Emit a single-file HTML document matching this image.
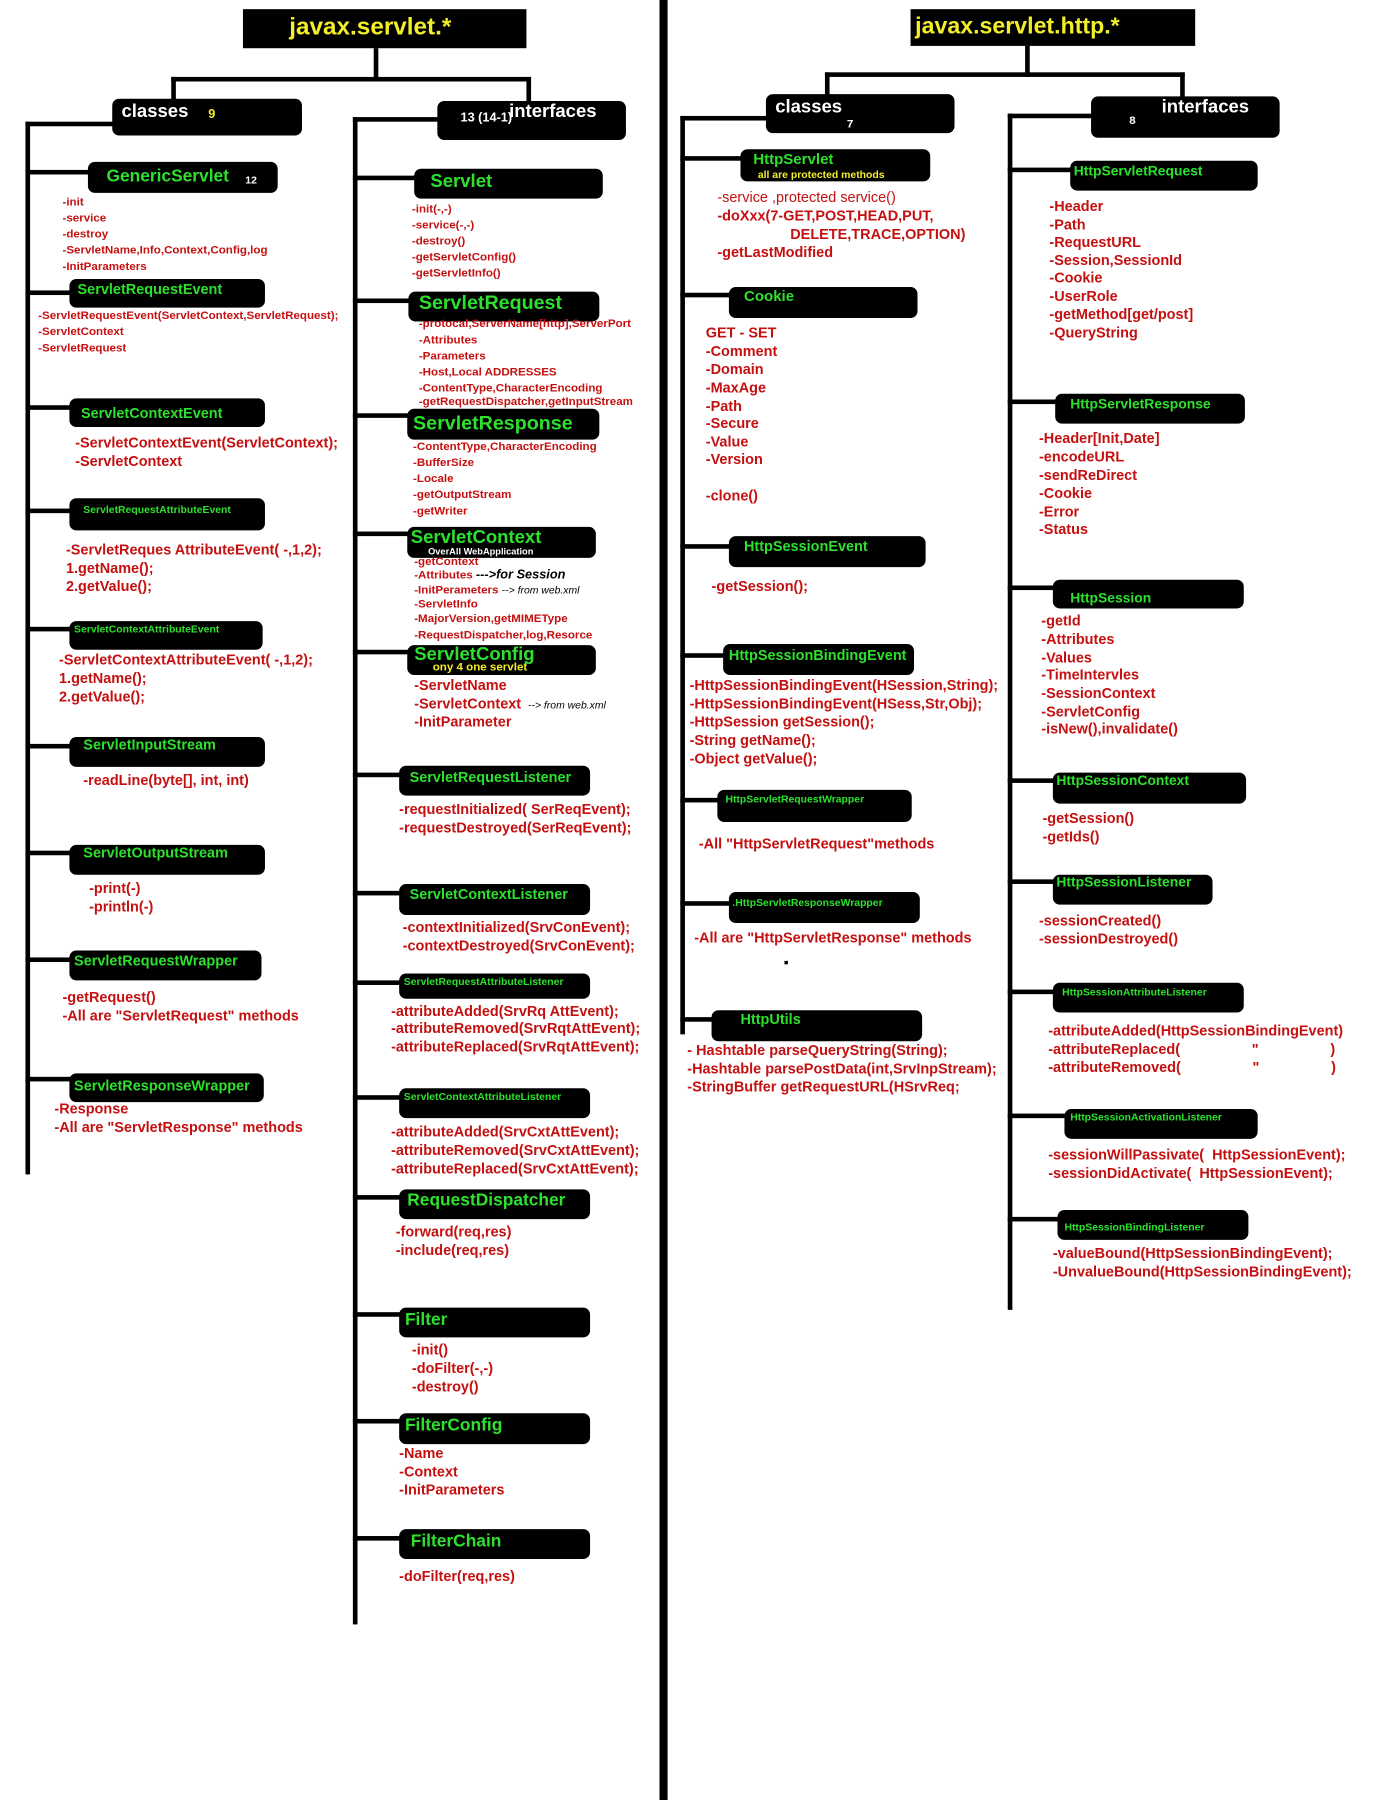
<!DOCTYPE html>
<html><head><meta charset="utf-8"><style>
html,body{margin:0;padding:0;background:#fff;width:1400px;height:1800px;overflow:hidden}
#w{position:absolute;left:0;top:0;width:1210px;height:1568px;transform:scale(1.157,1.148);transform-origin:0 0;font-family:"Liberation Sans",sans-serif;font-weight:bold}
#w div{position:absolute;white-space:nowrap;line-height:1}
.l{background:#000}
.b{background:#000;border-radius:6px}
.g{color:#2ee02e}
.y{color:#f2ee2a}
.wt{color:#fff}
.r{color:#c41010}
.s{font-size:10px}.m{font-size:12.5px}
</style></head><body><div id="w">
<!-- divider -->
<div class="l" style="left:570px;top:0;width:7px;height:1568px"></div>

<!-- LEFT PACKAGE -->
<div class="b" style="left:210px;top:8px;width:245px;height:34px;border-radius:0"></div>
<div class="y" style="left:250px;top:13px;font-size:21px">javax.servlet.*</div>
<div class="l" style="left:323px;top:42px;width:4px;height:28px"></div>
<div class="l" style="left:148px;top:67px;width:311px;height:4px"></div>
<div class="l" style="left:148px;top:67px;width:4px;height:20px"></div>
<div class="l" style="left:455px;top:67px;width:4px;height:22px"></div>
<div class="b" style="left:97px;top:86px;width:164px;height:32px"></div>
<div class="wt" style="left:105px;top:90px;font-size:16px">classes</div>
<div class="y" style="left:180px;top:95px;font-size:11px">9</div>
<div class="b" style="left:378px;top:88px;width:163px;height:34px"></div>
<div class="wt" style="left:398px;top:98px;font-size:11px">13 (14-1)</div>
<div class="wt" style="left:440px;top:90px;font-size:16px">interfaces</div>

<div class="l" style="left:22px;top:106px;width:4px;height:917px"></div>
<div class="l" style="left:22px;top:106px;width:76px;height:4px"></div>
<div class="l" style="left:305px;top:102px;width:4px;height:1313px"></div>
<div class="l" style="left:305px;top:102px;width:74px;height:4px"></div>

<!-- classes column -->
<div class="l" style="left:22px;top:148px;width:55px;height:4px"></div>
<div class="b" style="left:76px;top:141px;width:164px;height:27px"></div>
<div class="g" style="left:92px;top:146px;font-size:15px">GenericServlet</div>
<div class="wt" style="left:212px;top:153px;font-size:9px">12</div>
<div class="r s" style="left:54px;top:172px">-init</div>
<div class="r s" style="left:54px;top:186px">-service</div>
<div class="r s" style="left:54px;top:200px">-destroy</div>
<div class="r s" style="left:54px;top:214px">-ServletName,Info,Context,Config,log</div>
<div class="r s" style="left:54px;top:228px">-InitParameters</div>

<div class="l" style="left:22px;top:253px;width:40px;height:4px"></div>
<div class="b" style="left:60px;top:243px;width:169px;height:25px"></div>
<div class="g" style="left:67px;top:246px;font-size:12.5px">ServletRequestEvent</div>
<div class="r s" style="left:33px;top:271px">-ServletRequestEvent(ServletContext,ServletRequest);</div>
<div class="r s" style="left:33px;top:285px">-ServletContext</div>
<div class="r s" style="left:33px;top:299px">-ServletRequest</div>

<div class="l" style="left:22px;top:353px;width:40px;height:4px"></div>
<div class="b" style="left:60px;top:347px;width:169px;height:25px"></div>
<div class="g" style="left:70px;top:354px;font-size:12.5px">ServletContextEvent</div>
<div class="r m" style="left:65px;top:380px">-ServletContextEvent(ServletContext);</div>
<div class="r m" style="left:65px;top:396px">-ServletContext</div>

<div class="l" style="left:22px;top:443px;width:40px;height:4px"></div>
<div class="b" style="left:60px;top:434px;width:169px;height:28px"></div>
<div class="g" style="left:72px;top:440px;font-size:9px">ServletRequestAttributeEvent</div>
<div class="r m" style="left:57px;top:473px">-ServletReques AttributeEvent( -,1,2);</div>
<div class="r m" style="left:57px;top:489px">1.getName();</div>
<div class="r m" style="left:57px;top:505px">2.getValue();</div>

<div class="l" style="left:22px;top:546px;width:40px;height:4px"></div>
<div class="b" style="left:60px;top:541px;width:167px;height:25px"></div>
<div class="g" style="left:64px;top:544px;font-size:9px">ServletContextAttributeEvent</div>
<div class="r m" style="left:51px;top:569px">-ServletContextAttributeEvent( -,1,2);</div>
<div class="r m" style="left:51px;top:585px">1.getName();</div>
<div class="r m" style="left:51px;top:601px">2.getValue();</div>

<div class="l" style="left:22px;top:648px;width:40px;height:4px"></div>
<div class="b" style="left:60px;top:642px;width:169px;height:26px"></div>
<div class="g" style="left:72px;top:643px;font-size:12.5px">ServletInputStream</div>
<div class="r m" style="left:72px;top:674px">-readLine(byte[], int, int)</div>

<div class="l" style="left:22px;top:741px;width:40px;height:4px"></div>
<div class="b" style="left:60px;top:736px;width:169px;height:26px"></div>
<div class="g" style="left:72px;top:737px;font-size:12.5px">ServletOutputStream</div>
<div class="r m" style="left:77px;top:768px">-print(-)</div>
<div class="r m" style="left:77px;top:784px">-println(-)</div>

<div class="l" style="left:22px;top:834px;width:40px;height:4px"></div>
<div class="b" style="left:60px;top:828px;width:166px;height:26px"></div>
<div class="g" style="left:64px;top:831px;font-size:12.5px">ServletRequestWrapper</div>
<div class="r m" style="left:54px;top:863px">-getRequest()</div>
<div class="r m" style="left:54px;top:879px">-All are "ServletRequest"  methods</div>

<div class="l" style="left:22px;top:938px;width:40px;height:4px"></div>
<div class="b" style="left:60px;top:935px;width:168px;height:25px"></div>
<div class="g" style="left:64px;top:940px;font-size:12.5px">ServletResponseWrapper</div>
<div class="r m" style="left:47px;top:960px">-Response</div>
<div class="r m" style="left:47px;top:976px">-All are "ServletResponse" methods</div>

<!-- interfaces column -->
<div class="l" style="left:305px;top:153px;width:55px;height:4px"></div>
<div class="b" style="left:358px;top:147px;width:163px;height:26px"></div>
<div class="g" style="left:372px;top:151px;font-size:16px">Servlet</div>
<div class="r s" style="left:356px;top:178px">-init(-,-)</div>
<div class="r s" style="left:356px;top:192px">-service(-,-)</div>
<div class="r s" style="left:356px;top:206px">-destroy()</div>
<div class="r s" style="left:356px;top:220px">-getServletConfig()</div>
<div class="r s" style="left:356px;top:234px">-getServletInfo()</div>

<div class="l" style="left:305px;top:260px;width:50px;height:4px"></div>
<div class="b" style="left:353px;top:254px;width:165px;height:26px"></div>
<div class="g" style="left:362px;top:255px;font-size:17px">ServletRequest</div>
<div class="r s" style="left:362px;top:278px">-protocal,ServerName[http],ServerPort</div>
<div class="r s" style="left:362px;top:292px">-Attributes</div>
<div class="r s" style="left:362px;top:306px">-Parameters</div>
<div class="r s" style="left:362px;top:320px">-Host,Local ADDRESSES</div>
<div class="r s" style="left:362px;top:334px">-ContentType,CharacterEncoding</div>
<div class="r s" style="left:362px;top:346px">-getRequestDispatcher,getInputStream</div>

<div class="l" style="left:305px;top:360px;width:50px;height:4px"></div>
<div class="b" style="left:352px;top:356px;width:166px;height:27px"></div>
<div class="g" style="left:357px;top:360px;font-size:17px">ServletResponse</div>
<div class="r s" style="left:357px;top:385px">-ContentType,CharacterEncoding</div>
<div class="r s" style="left:357px;top:399px">-BufferSize</div>
<div class="r s" style="left:357px;top:413px">-Locale</div>
<div class="r s" style="left:357px;top:427px">-getOutputStream</div>
<div class="r s" style="left:357px;top:441px">-getWriter</div>

<div class="l" style="left:305px;top:463px;width:50px;height:4px"></div>
<div class="b" style="left:352px;top:459px;width:163px;height:27px"></div>
<div class="g" style="left:355px;top:461px;font-size:16px">ServletContext</div>
<div class="wt" style="left:370px;top:477px;font-size:8px">OverAll WebApplication</div>
<div class="r s" style="left:358px;top:485px">-getContext</div>
<div class="r s" style="left:358px;top:496px">-Attributes <span style="color:#000;font-style:italic;font-size:11px">--->for Session</span></div>
<div class="r s" style="left:358px;top:510px">-InitPerameters <span style="color:#000;font-style:italic;font-weight:normal;font-size:9px">--> from web.xml</span></div>
<div class="r s" style="left:358px;top:522px">-ServletInfo</div>
<div class="r s" style="left:358px;top:535px">-MajorVersion,getMIMEType</div>
<div class="r s" style="left:358px;top:549px">-RequestDispatcher,log,Resorce</div>

<div class="l" style="left:305px;top:566px;width:50px;height:4px"></div>
<div class="b" style="left:352px;top:562px;width:163px;height:26px"></div>
<div class="g" style="left:358px;top:563px;font-size:16px">ServletConfig</div>
<div class="y" style="left:374px;top:577px;font-size:10px">ony 4 one servlet</div>
<div class="r m" style="left:358px;top:591px">-ServletName</div>
<div class="r m" style="left:358px;top:607px">-ServletContext <span style="color:#000;font-style:italic;font-weight:normal;font-size:9px">&nbsp;--> from web.xml</span></div>
<div class="r m" style="left:358px;top:623px">-InitParameter</div>

<div class="l" style="left:305px;top:673px;width:42px;height:4px"></div>
<div class="b" style="left:345px;top:667px;width:165px;height:26px"></div>
<div class="g" style="left:354px;top:671px;font-size:12.5px">ServletRequestListener</div>
<div class="r m" style="left:345px;top:699px">-requestInitialized( SerReqEvent);</div>
<div class="r m" style="left:345px;top:715px">-requestDestroyed(SerReqEvent);</div>

<div class="l" style="left:305px;top:776px;width:42px;height:4px"></div>
<div class="b" style="left:345px;top:770px;width:165px;height:27px"></div>
<div class="g" style="left:354px;top:773px;font-size:12.5px">ServletContextListener</div>
<div class="r m" style="left:348px;top:802px">-contextInitialized(SrvConEvent);</div>
<div class="r m" style="left:348px;top:818px">-contextDestroyed(SrvConEvent);</div>

<div class="l" style="left:305px;top:854px;width:42px;height:4px"></div>
<div class="b" style="left:345px;top:848px;width:165px;height:22px"></div>
<div class="g" style="left:349px;top:851px;font-size:9px">ServletRequestAttributeListener</div>
<div class="r m" style="left:338px;top:875px">-attributeAdded(SrvRq AttEvent);</div>
<div class="r m" style="left:338px;top:890px">-attributeRemoved(SrvRqtAttEvent);</div>
<div class="r m" style="left:338px;top:906px">-attributeReplaced(SrvRqtAttEvent);</div>

<div class="l" style="left:305px;top:954px;width:42px;height:4px"></div>
<div class="b" style="left:345px;top:948px;width:165px;height:26px"></div>
<div class="g" style="left:349px;top:951px;font-size:9px">ServletContextAttributeListener</div>
<div class="r m" style="left:338px;top:980px">-attributeAdded(SrvCxtAttEvent);</div>
<div class="r m" style="left:338px;top:996px">-attributeRemoved(SrvCxtAttEvent);</div>
<div class="r m" style="left:338px;top:1012px">-attributeReplaced(SrvCxtAttEvent);</div>

<div class="l" style="left:305px;top:1041px;width:42px;height:4px"></div>
<div class="b" style="left:345px;top:1036px;width:165px;height:26px"></div>
<div class="g" style="left:352px;top:1038px;font-size:15px">RequestDispatcher</div>
<div class="r m" style="left:342px;top:1067px">-forward(req,res)</div>
<div class="r m" style="left:342px;top:1083px">-include(req,res)</div>

<div class="l" style="left:305px;top:1143px;width:42px;height:4px"></div>
<div class="b" style="left:345px;top:1139px;width:165px;height:26px"></div>
<div class="g" style="left:350px;top:1142px;font-size:15px">Filter</div>
<div class="r m" style="left:356px;top:1170px">-init()</div>
<div class="r m" style="left:356px;top:1186px">-doFilter(-,-)</div>
<div class="r m" style="left:356px;top:1202px">-destroy()</div>

<div class="l" style="left:305px;top:1236px;width:42px;height:4px"></div>
<div class="b" style="left:345px;top:1231px;width:165px;height:27px"></div>
<div class="g" style="left:350px;top:1234px;font-size:15px">FilterConfig</div>
<div class="r m" style="left:345px;top:1260px">-Name</div>
<div class="r m" style="left:345px;top:1276px">-Context</div>
<div class="r m" style="left:345px;top:1292px">-InitParameters</div>

<div class="l" style="left:305px;top:1338px;width:42px;height:4px"></div>
<div class="b" style="left:345px;top:1332px;width:165px;height:26px"></div>
<div class="g" style="left:355px;top:1335px;font-size:15px">FilterChain</div>
<div class="r m" style="left:345px;top:1367px">-doFilter(req,res)</div>

<!-- RIGHT PACKAGE -->
<div class="b" style="left:787px;top:8px;width:246px;height:32px;border-radius:0"></div>
<div class="y" style="left:791px;top:13px;font-size:20px">javax.servlet.http.*</div>
<div class="l" style="left:886px;top:40px;width:4px;height:27px"></div>
<div class="l" style="left:713px;top:63px;width:311px;height:4px"></div>
<div class="l" style="left:713px;top:63px;width:4px;height:21px"></div>
<div class="l" style="left:1020px;top:63px;width:4px;height:24px"></div>
<div class="b" style="left:662px;top:82px;width:163px;height:34px"></div>
<div class="wt" style="left:670px;top:86px;font-size:16px">classes</div>
<div class="wt" style="left:732px;top:104px;font-size:10px">7</div>
<div class="b" style="left:943px;top:84px;width:163px;height:36px"></div>
<div class="wt" style="left:976px;top:101px;font-size:10px">8</div>
<div class="wt" style="left:1004px;top:86px;font-size:16px">interfaces</div>

<div class="l" style="left:588px;top:101px;width:4px;height:800px"></div>
<div class="l" style="left:588px;top:101px;width:75px;height:4px"></div>
<div class="l" style="left:871px;top:99px;width:4px;height:1042px"></div>
<div class="l" style="left:871px;top:99px;width:73px;height:4px"></div>

<!-- http classes -->
<div class="l" style="left:588px;top:136px;width:54px;height:4px"></div>
<div class="b" style="left:640px;top:130px;width:164px;height:28px"></div>
<div class="g" style="left:651px;top:132px;font-size:13px">HttpServlet</div>
<div class="y" style="left:655px;top:148px;font-size:9px">all are protected methods</div>
<div class="r m" style="left:620px;top:166px;font-weight:normal">-service ,protected service()</div>
<div class="r m" style="left:620px;top:182px">-doXxx(7-GET,POST,HEAD,PUT,</div>
<div class="r m" style="left:683px;top:198px">DELETE,TRACE,OPTION)</div>
<div class="r m" style="left:620px;top:214px">-getLastModified</div>

<div class="l" style="left:588px;top:255px;width:44px;height:4px"></div>
<div class="b" style="left:630px;top:250px;width:163px;height:27px"></div>
<div class="g" style="left:643px;top:251px;font-size:13px">Cookie</div>
<div class="r m" style="left:610px;top:284px">GET - SET</div>
<div class="r m" style="left:610px;top:300px">-Comment</div>
<div class="r m" style="left:610px;top:316px">-Domain</div>
<div class="r m" style="left:610px;top:332px">-MaxAge</div>
<div class="r m" style="left:610px;top:348px">-Path</div>
<div class="r m" style="left:610px;top:363px">-Secure</div>
<div class="r m" style="left:610px;top:379px">-Value</div>
<div class="r m" style="left:610px;top:394px">-Version</div>
<div class="r m" style="left:610px;top:426px">-clone()</div>

<div class="l" style="left:588px;top:474px;width:44px;height:4px"></div>
<div class="b" style="left:630px;top:467px;width:170px;height:27px"></div>
<div class="g" style="left:643px;top:470px;font-size:12.5px">HttpSessionEvent</div>
<div class="r m" style="left:615px;top:505px">-getSession();</div>

<div class="l" style="left:588px;top:569px;width:39px;height:4px"></div>
<div class="b" style="left:625px;top:561px;width:165px;height:27px"></div>
<div class="g" style="left:630px;top:565px;font-size:12.5px">HttpSessionBindingEvent</div>
<div class="r m" style="left:596px;top:591px">-HttpSessionBindingEvent(HSession,String);</div>
<div class="r m" style="left:596px;top:607px">-HttpSessionBindingEvent(HSess,Str,Obj);</div>
<div class="r m" style="left:596px;top:623px">-HttpSession getSession();</div>
<div class="r m" style="left:596px;top:639px">-String getName();</div>
<div class="r m" style="left:596px;top:655px">-Object getValue();</div>

<div class="l" style="left:588px;top:695px;width:34px;height:4px"></div>
<div class="b" style="left:620px;top:688px;width:168px;height:28px"></div>
<div class="g" style="left:627px;top:692px;font-size:9px">HttpServletRequestWrapper</div>
<div class="r m" style="left:604px;top:729px">-All "HttpServletRequest"methods</div>

<div class="l" style="left:588px;top:785px;width:44px;height:4px"></div>
<div class="b" style="left:630px;top:777px;width:165px;height:27px"></div>
<div class="g" style="left:633px;top:782px;font-size:9px">.HttpServletResponseWrapper</div>
<div class="r m" style="left:600px;top:811px">-All are "HttpServletResponse" methods</div>
<div class="l" style="left:678px;top:837px;width:3px;height:3px"></div>

<div class="l" style="left:588px;top:886px;width:29px;height:4px"></div>
<div class="b" style="left:615px;top:880px;width:182px;height:27px"></div>
<div class="g" style="left:640px;top:882px;font-size:12.5px">HttpUtils</div>
<div class="r m" style="left:594px;top:909px">- Hashtable parseQueryString(String);</div>
<div class="r m" style="left:594px;top:925px">-Hashtable parsePostData(int,SrvInpStream);</div>
<div class="r m" style="left:594px;top:941px">-StringBuffer getRequestURL(HSrvReq;</div>

<!-- http interfaces -->
<div class="l" style="left:871px;top:146px;width:56px;height:4px"></div>
<div class="b" style="left:925px;top:140px;width:162px;height:26px"></div>
<div class="g" style="left:928px;top:143px;font-size:12px">HttpServletRequest</div>
<div class="r m" style="left:907px;top:174px">-Header</div>
<div class="r m" style="left:907px;top:190px">-Path</div>
<div class="r m" style="left:907px;top:205px">-RequestURL</div>
<div class="r m" style="left:907px;top:221px">-Session,SessionId</div>
<div class="r m" style="left:907px;top:236px">-Cookie</div>
<div class="r m" style="left:907px;top:252px">-UserRole</div>
<div class="r m" style="left:907px;top:268px">-getMethod[get/post]</div>
<div class="r m" style="left:907px;top:284px">-QueryString</div>

<div class="l" style="left:871px;top:348px;width:43px;height:4px"></div>
<div class="b" style="left:912px;top:343px;width:164px;height:26px"></div>
<div class="g" style="left:925px;top:346px;font-size:12px">HttpServletResponse</div>
<div class="r m" style="left:898px;top:376px">-Header[Init,Date]</div>
<div class="r m" style="left:898px;top:392px">-encodeURL</div>
<div class="r m" style="left:898px;top:408px">-sendReDirect</div>
<div class="r m" style="left:898px;top:424px">-Cookie</div>
<div class="r m" style="left:898px;top:440px">-Error</div>
<div class="r m" style="left:898px;top:455px">-Status</div>

<div class="l" style="left:871px;top:510px;width:41px;height:4px"></div>
<div class="b" style="left:910px;top:505px;width:165px;height:25px"></div>
<div class="g" style="left:925px;top:515px;font-size:12px">HttpSession</div>
<div class="r m" style="left:900px;top:535px">-getId</div>
<div class="r m" style="left:900px;top:551px">-Attributes</div>
<div class="r m" style="left:900px;top:567px">-Values</div>
<div class="r m" style="left:900px;top:582px">-TimeIntervles</div>
<div class="r m" style="left:900px;top:598px">-SessionContext</div>
<div class="r m" style="left:900px;top:614px">-ServletConfig</div>
<div class="r m" style="left:900px;top:629px">-isNew(),invalidate()</div>

<div class="l" style="left:871px;top:678px;width:41px;height:4px"></div>
<div class="b" style="left:910px;top:673px;width:167px;height:27px"></div>
<div class="g" style="left:913px;top:674px;font-size:12px">HttpSessionContext</div>
<div class="r m" style="left:901px;top:707px">-getSession()</div>
<div class="r m" style="left:901px;top:723px">-getIds()</div>

<div class="l" style="left:871px;top:766px;width:41px;height:4px"></div>
<div class="b" style="left:910px;top:762px;width:138px;height:26px"></div>
<div class="g" style="left:913px;top:762px;font-size:12px">HttpSessionListener</div>
<div class="r m" style="left:898px;top:796px">-sessionCreated()</div>
<div class="r m" style="left:898px;top:812px">-sessionDestroyed()</div>

<div class="l" style="left:871px;top:862px;width:41px;height:4px"></div>
<div class="b" style="left:910px;top:856px;width:165px;height:26px"></div>
<div class="g" style="left:918px;top:860px;font-size:9px">HttpSessionAttributeListener</div>
<div class="r m" style="left:906px;top:892px">-attributeAdded(HttpSessionBindingEvent)</div>
<div class="r m" style="left:906px;top:908px">-attributeReplaced(<span style="display:inline-block;width:62px"></span>"<span style="display:inline-block;width:62px"></span>)</div>
<div class="r m" style="left:906px;top:924px">-attributeRemoved(<span style="display:inline-block;width:62px"></span>"<span style="display:inline-block;width:62px"></span>)</div>

<div class="l" style="left:871px;top:970px;width:51px;height:4px"></div>
<div class="b" style="left:920px;top:966px;width:167px;height:26px"></div>
<div class="g" style="left:925px;top:969px;font-size:9px">HttpSessionActivationListener</div>
<div class="r m" style="left:906px;top:1000px">-sessionWillPassivate(&nbsp; HttpSessionEvent);</div>
<div class="r m" style="left:906px;top:1016px">-sessionDidActivate(&nbsp; HttpSessionEvent);</div>

<div class="l" style="left:871px;top:1060px;width:45px;height:4px"></div>
<div class="b" style="left:914px;top:1054px;width:165px;height:26px"></div>
<div class="g" style="left:920px;top:1065px;font-size:9px">HttpSessionBindingListener</div>
<div class="r m" style="left:910px;top:1086px">-valueBound(HttpSessionBindingEvent);</div>
<div class="r m" style="left:910px;top:1102px">-UnvalueBound(HttpSessionBindingEvent);</div>
</div></body></html>
